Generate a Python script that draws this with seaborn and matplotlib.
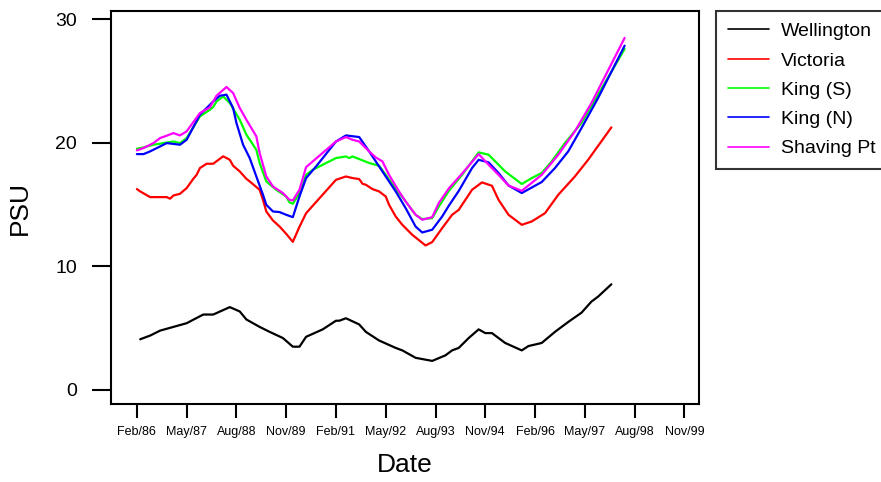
import numpy as np
import pandas as pd
import matplotlib
matplotlib.use("Agg")
import matplotlib.pyplot as plt
import seaborn as sns

# months counted from Jan/86 (Feb/86 = 1)
well_t = [2, 5, 8, 12, 16, 21, 24, 29, 32, 34, 38, 41, 45, 48, 50, 52, 57, 61, 62, 64,
          68, 70, 74, 79, 81, 85, 87, 90, 94, 96, 98, 101, 104, 106, 108, 112, 117, 119,
          123, 127, 131, 135, 138, 140, 144]
well_v = [4.1, 4.4, 4.8, 5.1, 5.4, 6.1, 6.1, 6.7, 6.35, 5.7, 5.1, 4.7, 4.2, 3.5, 3.5, 4.3,
          4.9, 5.6, 5.6, 5.8, 5.3, 4.7, 4.0, 3.4, 3.2, 2.6, 2.5, 2.35, 2.8, 3.2, 3.4, 4.2,
          4.9, 4.6, 4.6, 3.8, 3.2, 3.55, 3.8, 4.7, 5.5, 6.25, 7.15, 7.55, 8.55]

vic_t = [1, 2, 5, 10, 11, 12, 14, 16, 18, 19, 20, 22, 24, 27, 29, 30, 32, 34, 35, 38,
         39, 40, 42, 44, 46, 48, 50, 52, 61, 64, 66, 68, 69, 70, 72, 74, 76, 77, 79, 81,
         84, 88, 90, 93, 96, 98, 102, 105, 108, 110, 113, 117, 120, 124, 128, 133, 137, 144]
vic_v = [16.25, 16.06, 15.6, 15.6, 15.47, 15.73, 15.87, 16.33, 17.08, 17.4, 17.95, 18.3,
         18.3, 18.9, 18.62, 18.14, 17.68, 17.08, 16.87, 16.19, 15.38, 14.44, 13.71, 13.22,
         12.63, 11.98, 13.2, 14.3, 17.0, 17.27, 17.14, 17.06, 16.68, 16.6, 16.25, 16.06,
         15.65, 14.98, 14.03, 13.36, 12.55, 11.69, 11.96, 13.09, 14.17, 14.57, 16.19, 16.79,
         16.52, 15.38, 14.17, 13.36, 13.63, 14.3, 15.79, 17.27, 18.62, 21.24]

kings_t = [1, 3, 6, 9, 12, 14, 16, 20, 23, 24, 25, 27, 29, 32, 34, 37, 38, 40, 43, 46,
           47, 48, 50, 52, 54, 61, 64, 65, 66, 71, 74, 76, 80, 82, 85, 87, 90, 92, 95, 99,
           104, 107, 110, 112, 117, 120, 123, 126, 130, 135, 140, 148]
kings_v = [19.51, 19.62, 19.84, 19.97, 20.1, 19.97, 20.38, 22.13, 22.67, 22.89, 23.34,
           23.75, 23.21, 21.86, 20.65, 19.43, 18.36, 16.87, 16.19, 15.65, 15.17, 15.06,
           15.93, 17.4, 17.81, 18.76, 18.89, 18.76, 18.89, 18.36, 18.14, 17.4, 15.93, 15.25,
           14.17, 13.82, 13.9, 14.84, 16.1, 17.4, 19.22, 19.03, 18.22, 17.68, 16.66, 17.14,
           17.55, 18.49, 19.97, 21.6, 23.89, 27.59]

kingn_t = [1, 3, 5, 10, 14, 16, 20, 24, 26, 28, 30, 31, 33, 35, 37, 39, 40, 42, 44, 46,
           48, 50, 52, 55, 61, 64, 68, 71, 74, 77, 79, 82, 85, 87, 90, 93, 95, 98, 102, 104,
           107, 110, 113, 117, 123, 127, 131, 135, 140, 148]
kingn_v = [19.08, 19.08, 19.3, 19.97, 19.84, 20.24, 22.27, 23.34, 23.8, 23.89, 22.81, 21.6,
           19.84, 18.76, 17.27, 15.79, 14.98, 14.44, 14.39, 14.17, 13.98, 15.65, 17.14,
           18.08, 20.1, 20.59, 20.46, 19.3, 18.08, 16.87, 16.06, 14.71, 13.22, 12.74, 12.96,
           14.03, 14.9, 16.1, 17.95, 18.62, 18.41, 17.55, 16.54, 15.93, 16.82, 17.95, 19.3,
           21.19, 23.62, 27.85]

shav_t = [1, 3, 6, 8, 10, 12, 14, 16, 20, 23, 25, 28, 30, 32, 34, 37, 38, 40, 42, 45,
          47, 48, 50, 52, 61, 64, 66, 68, 71, 73, 75, 77, 80, 82, 85, 87, 90, 92, 95, 99,
          104, 107, 110, 113, 117, 123, 128, 133, 138, 148]
shav_v = [19.38, 19.57, 19.97, 20.38, 20.57, 20.78, 20.59, 20.92, 22.4, 22.86, 23.8, 24.51,
          24.02, 22.81, 21.86, 20.51, 19.17, 17.27, 16.46, 15.93, 15.38, 15.33, 16.2, 18.03,
          20.1, 20.46, 20.24, 20.1, 19.3, 18.81, 18.49, 17.4, 16.06, 15.25, 14.17, 13.77,
          13.98, 15.12, 16.3, 17.5, 19.08, 18.22, 17.4, 16.54, 16.11, 17.4, 19.03, 20.92,
          23.21, 28.48]

tick_t = [1, 16, 31, 46, 61, 76, 91, 106, 121, 136, 151, 166]
tick_labels = ["Feb/86", "May/87", "Aug/88", "Nov/89", "Feb/91", "May/92", "Aug/93",
               "Nov/94", "Feb/96", "May/97", "Aug/98", "Nov/99"]

series = [
    ("Wellington", well_t, well_v, "black"),
    ("Victoria", vic_t, vic_v, "#ff0000"),
    ("King (S)", kings_t, kings_v, "#00ff00"),
    ("King (N)", kingn_t, kingn_v, "#0000ff"),
    ("Shaving Pt", shav_t, shav_v, "#ff00ff"),
]

sns.set_style("white")
plt.rcParams["font.family"] = ["Liberation Sans", "DejaVu Sans"]
plt.rcParams["text.color"] = "black"
plt.rcParams["axes.labelcolor"] = "black"
plt.rcParams["xtick.color"] = "black"
plt.rcParams["ytick.color"] = "black"

fig = plt.figure(figsize=(8.81, 4.82), dpi=100)
ax = fig.add_axes([0.126, 0.162, 0.667, 0.815])

for name, t, v, c in series:
    sns.lineplot(x=t, y=v, color=c, label=name, lw=1.6, estimator=None, ax=ax)

ax.set_xlim(-6.8, 170.3)
ax.set_ylim(-1.13, 30.65)
ax.set_xticks(tick_t)
ax.set_xticklabels(tick_labels)
ax.set_yticks([0, 10, 20, 30])

for s in ax.spines.values():
    s.set_color("black")
    s.set_linewidth(1.5)

ax.tick_params(axis="y", direction="out", length=13.5, width=1.5, labelsize=14, pad=11,
               left=True, colors="black")
ax.tick_params(axis="x", direction="out", length=10, width=1.5, labelsize=9, pad=6,
               bottom=True, colors="black")

ax.set_xlabel("Date", fontsize=19)
ax.set_ylabel("PSU", fontsize=19)
ax.xaxis.set_label_coords(0.5, -0.125)
ax.yaxis.set_label_coords(-0.135, 0.5)

leg = ax.legend(loc="upper left", bbox_to_anchor=(716 / 881, 1 - 11 / 482),
                bbox_transform=fig.transFigure, fontsize=14, frameon=True, fancybox=False,
                borderaxespad=0, handlelength=2.1, handletextpad=0.65, labelspacing=0.6,
                borderpad=0.6)
leg.get_frame().set_edgecolor("black")
leg.get_frame().set_linewidth(1.5)
for line in leg.get_lines():
    line.set_linewidth(1.2)

fig.savefig("out.png", dpi=100)
